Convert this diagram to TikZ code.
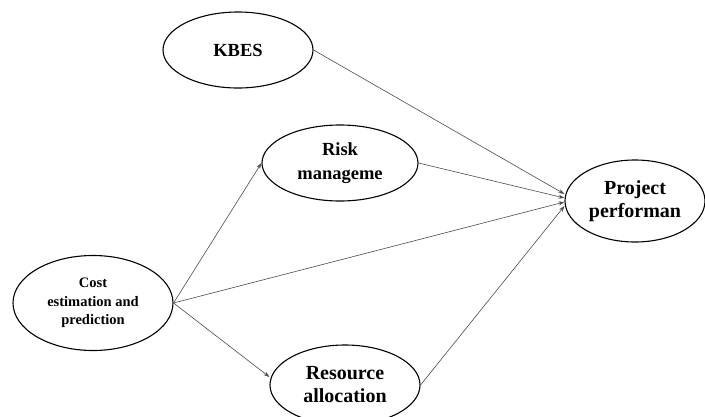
\documentclass[tikz,border=0pt]{standalone}
\usepackage{fontspec}
\setmainfont{Liberation Serif}
\usetikzlibrary{shapes.geometric,arrows.meta}
\begin{document}
\begin{tikzpicture}[x=1pt,y=-1pt,
  oval/.style={ellipse,draw=black,line width=1.1pt,inner sep=0pt,align=center,font=\bfseries\fontsize{18.5}{24}\selectfont},
  big/.style={font=\bfseries\fontsize{20}{23}\selectfont},
  link/.style={draw=black!70,line width=0.6pt,-{Stealth[length=6pt,width=4pt]}}]
\useasboundingbox (0,0) rectangle (705,416);
\fill[white] (0,0) rectangle (705,416);
\node[oval,minimum width=150pt,minimum height=76pt] (kbes) at (238,50) {KBES};
\node[oval,minimum width=156pt,minimum height=76pt] (risk) at (340,163) {Risk\\manageme};
\node[oval,minimum width=160pt,minimum height=95pt,font=\bfseries\fontsize{14.5}{18.5}\selectfont] (cost) at (93,303) {Cost\\estimation and\\prediction};
\node[oval,big,minimum width=150pt,minimum height=80pt] (res) at (345,385) {Resource\\allocation};
\node[oval,big,minimum width=140pt,minimum height=82pt] (proj) at (635,201) {Project\\performan};
\draw[link] (kbes.east) -- ([yshift=7pt]proj.west);
\draw[link] (risk.east) -- ([yshift=3pt]proj.west);
\draw[link] (cost.east) -- ([yshift=-1pt]proj.west);
\draw[link] (res.east) -- ([yshift=-5pt]proj.west);
\draw[link] (cost.east) -- (risk.west);
\draw[link] (cost.east) -- ([yshift=8pt]res.west);
\end{tikzpicture}
\end{document}
